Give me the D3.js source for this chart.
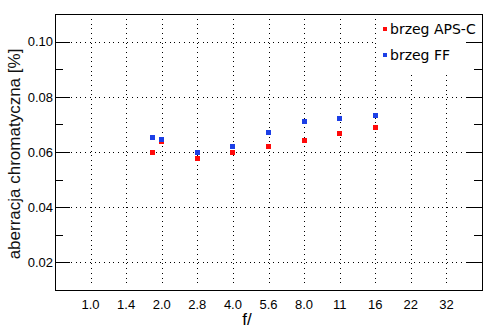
<!DOCTYPE html>
<html>
<head>
<meta charset="utf-8">
<script src="https://cdn.jsdelivr.net/npm/d3@7"></script>
<style>
  html, body { margin: 0; padding: 0; background: #fff; }
  svg { display: block; }
</style>
</head>
<body>
<svg id="chart" width="494" height="331"></svg>
<script>
// ---- data ----
const tickValuesX = [1, 1.414, 2, 2.828, 4, 5.657, 8, 11.31, 16, 22.63, 32];
const tickLabelsX = ["1.0", "1.4", "2.0", "2.8", "4.0", "5.6", "8.0", "11", "16", "22", "32"];
const fNumbers = [1.82, 2.0, 2.828, 4.0, 5.657, 8.0, 11.31, 16];
const apsValues = [0.0599, 0.0639, 0.0577, 0.0599, 0.0621, 0.0643, 0.0668, 0.0690];
const ffValues  = [0.0654, 0.0647, 0.0599, 0.0621, 0.0672, 0.0712, 0.0723, 0.0734];
const majorY = [0.02, 0.04, 0.06, 0.08, 0.10];
const minorY = [0.03, 0.05, 0.07, 0.09];
const seriesNames = ["brzeg APS-C", "brzeg FF"];
const seriesColors = ["#ff0a0a", "#1c3fe6"];

// ---- layout ----
const L = 55, R = 482, T = 14, B = 290;
const svg = d3.select("#chart");
const x = d3.scaleLog().base(2).domain([Math.SQRT1_2, 32 * Math.SQRT2]).range([L, R]);
const y = d3.scaleLinear().domain([0.01, 0.11]).range([B, T]);
const px = v => Math.round(x(v)) + 0.5;
const py = v => Math.round(y(v)) + 0.5;

// grid
const grid = svg.append("g").attr("stroke", "#000").attr("stroke-width", 1)
  .attr("stroke-dasharray", "1,3.7").attr("shape-rendering", "crispEdges");
grid.selectAll("line.v").data(tickValuesX).join("line")
  .attr("x1", d => px(d)).attr("x2", d => px(d))
  .attr("y1", T + 5).attr("y2", B - 4);
grid.selectAll("line.h").data(majorY).join("line")
  .attr("y1", d => py(d)).attr("y2", d => py(d))
  .attr("x1", L + 16).attr("x2", R - 15);

// legend background
svg.append("rect").attr("x", 377).attr("y", 15).attr("width", 89).attr("height", 58).attr("fill", "#fff");

// frame
svg.append("rect").attr("x", L + 0.5).attr("y", T + 0.5).attr("width", R - L).attr("height", B - T)
  .attr("fill", "none").attr("stroke", "#000").attr("stroke-width", 1);

// y ticks (inside, left and right)
const ticks = svg.append("g").attr("stroke", "#000").attr("stroke-width", 1);
majorY.forEach(v => {
  ticks.append("line").attr("x1", L).attr("x2", L + 15).attr("y1", py(v)).attr("y2", py(v));
  ticks.append("line").attr("x1", R - 15).attr("x2", R).attr("y1", py(v)).attr("y2", py(v));
});
minorY.forEach(v => {
  ticks.append("line").attr("x1", L).attr("x2", L + 8).attr("y1", py(v)).attr("y2", py(v));
  ticks.append("line").attr("x1", R - 8).attr("x2", R).attr("y1", py(v)).attr("y2", py(v));
});

// y tick labels
svg.append("g").selectAll("text").data(majorY).join("text")
  .attr("x", 53).attr("y", d => y(d) + 4.7)
  .attr("text-anchor", "end")
  .attr("font-family", "Liberation Sans, Arial, sans-serif").attr("font-size", 13)
  .attr("fill", "#000")
  .text(d => d.toFixed(2));

// x tick labels
svg.append("g").selectAll("text").data(tickValuesX).join("text")
  .attr("x", d => x(d)).attr("y", 309)
  .attr("text-anchor", "middle")
  .attr("font-family", "Liberation Sans, Arial, sans-serif").attr("font-size", 13)
  .attr("fill", "#000")
  .text((d, i) => tickLabelsX[i]);

// axis titles
svg.append("text").attr("x", 247).attr("y", 325).attr("text-anchor", "middle")
  .attr("font-family", "Liberation Sans, Arial, sans-serif").attr("font-size", 17)
  .attr("fill", "#000").text("f/");
svg.append("text")
  .attr("transform", "translate(19.5,154) rotate(-90)")
  .attr("text-anchor", "middle")
  .attr("font-family", "Liberation Sans, Arial, sans-serif").attr("font-size", 17)
  .attr("fill", "#111").text("aberracja chromatyczna [%]");

// points
[apsValues, ffValues].forEach((vals, s) => {
  svg.append("g").selectAll("rect").data(vals).join("rect")
    .attr("x", (d, i) => Math.round(x(fNumbers[i]) - 2.5))
    .attr("y", d => Math.round(y(d) - 2.5))
    .attr("width", 5).attr("height", 5)
    .attr("fill", seriesColors[s]);
});

// legend
seriesNames.forEach((name, i) => {
  const by = 34 + i * 26;
  svg.append("rect").attr("x", 383).attr("y", by - 7).attr("width", 4).attr("height", 4)
    .attr("fill", seriesColors[i]);
  svg.append("text").attr("x", 390).attr("y", by)
    .attr("font-family", "DejaVu Sans, sans-serif").attr("font-size", 14)
    .attr("fill", "#000").text(name);
});
</script>
</body>
</html>
